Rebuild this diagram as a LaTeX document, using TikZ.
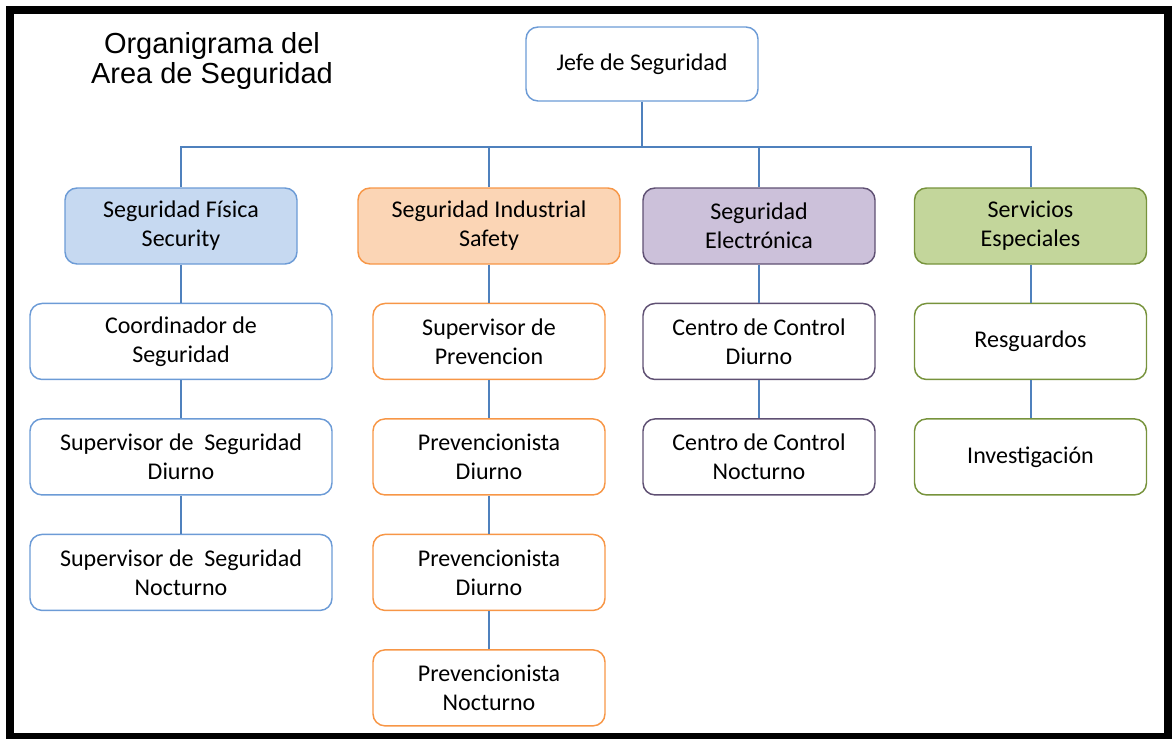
\documentclass[tikz,border=0pt]{standalone}
\usepackage{fontspec}
\setmainfont{Carlito}
\newfontfamily\titlefont{Liberation Sans}
\usetikzlibrary{positioning}
\definecolor{linkblue}{RGB}{79,129,189}
\definecolor{fisline}{RGB}{108,155,214}
\definecolor{fisfill}{RGB}{198,217,241}
\definecolor{indline}{RGB}{247,150,70}
\definecolor{indfill}{RGB}{251,213,181}
\definecolor{eleline}{RGB}{95,80,115}
\definecolor{elefill}{RGB}{204,193,218}
\definecolor{espline}{RGB}{119,147,60}
\definecolor{espfill}{RGB}{195,214,155}

\begin{document}
\begin{tikzpicture}[x=0.75pt, y=-0.75pt, node distance=28.5pt,
    box/.style={draw, rounded corners=9pt, line width=1.1pt, minimum width=174pt,
        minimum height=57pt, align=center, font=\fontsize{18}{21.75}\selectfont},
    link/.style={draw=linkblue, line width=1.5pt}]
    \useasboundingbox (0,0) rectangle (1175,739);
    \draw[line width=6pt] (10,10) rectangle (1167.5,737);
    % title and head
    \node[font=\titlefont\fontsize{21.75}{22.5}\selectfont, align=center] (title) at (212,61) {Organigrama del\\Area de Seguridad};
    \node[box, draw=fisline, minimum height=55.5pt] (jefe) at (642,64) {Jefe de Seguridad};
    \coordinate (bus) at (642,147);
    % areas
    \node[box, draw=fisline, fill=fisfill] (fis) at (181,226) {Seguridad Física\\Security};
    \node[box, draw=indline, fill=indfill, minimum width=196.5pt] (ind) at (489,226) {Seguridad Industrial\\Safety};
    \node[box, draw=eleline, fill=elefill] (ele) at (759,226) {Seguridad\\Electrónica};
    \node[box, draw=espline, fill=espfill] (esp) at (1030.5,226) {Servicios\\Especiales};
    % seguridad fisica
    \node[box, draw=fisline, minimum width=226.5pt, below=of fis] (coord) {Coordinador de\\Seguridad};
    \node[box, draw=fisline, minimum width=226.5pt, below=of coord] (supdia) {Supervisor de\ \ Seguridad\\Diurno};
    \node[box, draw=fisline, minimum width=226.5pt, below=of supdia] (supnoc) {Supervisor de\ \ Seguridad\\Nocturno};
    % seguridad industrial
    \node[box, draw=indline, below=of ind] (supprev) {Supervisor de\\Prevencion};
    \node[box, draw=indline, below=of supprev] (prevdia) {Prevencionista\\Diurno};
    \node[box, draw=indline, below=of prevdia] (prevdib) {Prevencionista\\Diurno};
    \node[box, draw=indline, below=of prevdib] (prevnoc) {Prevencionista\\Nocturno};
    % seguridad electronica
    \node[box, draw=eleline, below=of ele] (ccdia) {Centro de Control\\Diurno};
    \node[box, draw=eleline, below=of ccdia] (ccnoc) {Centro de Control\\Nocturno};
    % servicios especiales
    \node[box, draw=espline, below=of esp] (resg) {Resguardos};
    \node[box, draw=espline, below=of resg] (inv) {Investigación};
    % links
    \draw[link] (jefe) -- (bus);
    \foreach \a in {fis, ind, ele, esp}
        \draw[link] (bus) -| (\a);
    \draw[link] (fis) -- (coord);
    \draw[link] (coord) -- (supdia);
    \draw[link] (supdia) -- (supnoc);
    \draw[link] (ind) -- (supprev);
    \draw[link] (supprev) -- (prevdia);
    \draw[link] (prevdia) -- (prevdib);
    \draw[link] (prevdib) -- (prevnoc);
    \draw[link] (ele) -- (ccdia);
    \draw[link] (ccdia) -- (ccnoc);
    \draw[link] (esp) -- (resg);
    \draw[link] (resg) -- (inv);
\end{tikzpicture}
\end{document}
